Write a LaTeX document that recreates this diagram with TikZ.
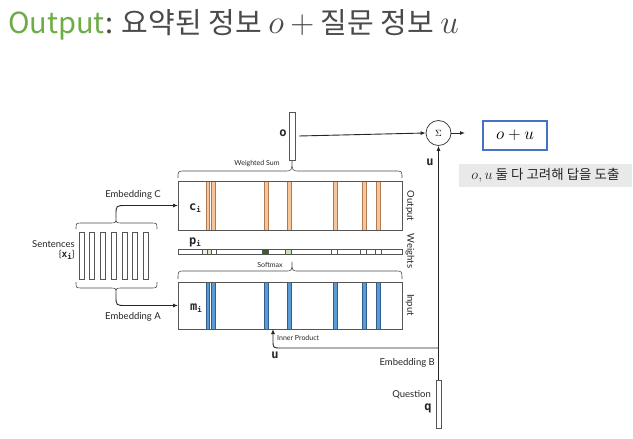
\documentclass[tikz,border=0pt]{standalone}
\usepackage{fontspec}
\setmainfont{Lato}
\newfontfamily\kr{Noto Sans CJK KR}
\newfontfamily\monof{DejaVu Sans Mono}
\usetikzlibrary{arrows.meta}
\definecolor{ttlgreen}{HTML}{6DAD45}
\definecolor{ttlgray}{HTML}{4A4A4A}
\definecolor{orfill}{HTML}{F8C49A}
\definecolor{oredge}{HTML}{B07A50}
\definecolor{blfill}{HTML}{5B9BD5}
\definecolor{bledge}{HTML}{2F5F8F}
\definecolor{boxblue}{HTML}{4472C4}
\definecolor{lineg}{HTML}{555555}
\definecolor{dgreen}{HTML}{3B5E22}
\definecolor{lgreen}{HTML}{C9E2B3}
\definecolor{notegray}{HTML}{E9E9E9}
\newcommand{\vlab}[1]{{\monof\bfseries #1}}
\newcommand{\vsub}[2]{{\monof\bfseries #1\raisebox{-0.35ex}{\fontsize{7.5}{8}\selectfont #2}}}
\newcommand{\ttlmath}[2]{{\fontsize{20}{20}\selectfont\scalebox{#1}{$#2$}}}
\begin{document}
\begin{tikzpicture}[x=1pt,y=-1pt,
  boxsh/.style={draw=lineg,line width=0.6pt,inner sep=0,outer sep=0,minimum width=224pt},
  vecsh/.style={draw=lineg,line width=0.6pt,inner sep=0,outer sep=0,fill=white},
  conn/.style={draw=black!85,line width=0.9pt,-{Latex[length=5pt,width=4pt]}},
  brace/.style={draw=black!70,line width=0.6pt},
  lab/.style={font=\fontsize{9.5}{10.5}\selectfont,text=black!85,inner sep=0},
  slab/.style={font=\fontsize{7}{8}\selectfont,text=black!85,inner sep=0},
  blab/.style={font=\fontsize{12}{13}\selectfont,text=black!85,inner sep=0}]
\useasboundingbox[fill=white] (0,0) rectangle (633,439);

% title
\node[anchor=base west,inner sep=0,font=\kr\fontsize{29}{30}\selectfont,text=ttlgreen] (t1) at (8,34) {Output};
\node[anchor=base west,inner sep=0,font=\kr\fontsize{29}{30}\selectfont,text=ttlgray] (t2) at (t1.base east) {: 요약된 정보 \ttlmath{1.6}{o} \ttlmath{1.6}{+} 질문 정보 \ttlmath{1.6}{u}};

% main boxes
\node[boxsh,minimum height=49pt] (outbox) at (290,205.5) {};
\node[boxsh,minimum height=5pt] (wbar) at (290,251.5) {};
\node[boxsh,minimum height=47pt] (inbox) at (290,305.5) {};

\foreach \a/\b in {206.5/209.5,211.5/215,264/267.7,287/290.7,333/336.7,362/365.7,376.5/380.2}{
  \filldraw[fill=orfill,draw=oredge,line width=0.4pt] (\a,181) rectangle (\b,230);
  \filldraw[fill=blfill,draw=bledge,line width=0.4pt] (\a,282) rectangle (\b,329);
}
\draw[lineg,line width=0.6pt] (178,181) rectangle (402,230);
\draw[lineg,line width=0.6pt] (178,282) rectangle (402,329);
\foreach \a/\b/\c in {202.7/206.8/lgreen!40,206.8/211/lgreen!70,211/215.8/white,262/268.7/dgreen,285/291.7/lgreen,331.3/337.3/white,360.7/366.7/white,375.3/381.3/white}{
  \filldraw[fill=\c,draw=lineg,line width=0.5pt] (\a,249) rectangle (\b,254);
}

% side labels
\node[lab,rotate=-90] (lout) at (410,206) {Output};
\node[lab,rotate=-90] (lw) at (410,251) {Weights};
\node[lab,rotate=-90] (lin) at (410,305) {Input};

\node[blab] (ci) at (195,208) {\vsub{c}{i}};
\node[blab] (pi) at (195,242) {\vsub{p}{i}};
\node[blab] (mi) at (196,308) {\vsub{m}{i}};

% o vector
\node[vecsh,minimum width=6pt,minimum height=48pt] (ovec) at (292,136) {};
\node[blab] (olab) at (283,133) {\vlab{o}};

% weighted sum brace
\draw[brace] (178,178) .. controls (178,171) .. (185,171) -- (284,171) .. controls (292,171) .. (ovec.south)
  .. controls (292,171) .. (300,171) -- (395,171) .. controls (402,171) .. (402,178);
\node[slab] (ws) at (257,164) {Weighted Sum};

% softmax brace
\draw[brace] (178,279) .. controls (178,271) .. (185,271) -- (285,271) .. controls (292,271) .. (292,262)
  .. controls (292,271) .. (299,271) -- (395,271) .. controls (402,271) .. (402,279);
\node[slab] (sm) at (270,265) {Softmax};

% sigma and result
\node[draw=black!80,line width=0.7pt,circle,minimum size=25pt,inner sep=0,font=\fontsize{9}{9}\selectfont] (sigma) at (438.5,133) {$\Sigma$};
\coordinate (oStart) at ([xshift=4pt]ovec.east);
\draw[conn] (oStart) -- (sigma.west);
\coordinate (sigEnd) at (465,133);
\draw[conn] (sigma.east) -- (sigEnd);
\node[draw=boxblue,line width=1.4pt,minimum width=64pt,minimum height=29pt,inner sep=0,font=\fontsize{17.28}{17}\selectfont] (res) at (515,135.5) {$o+u$};
\node[fill=notegray,minimum width=173pt,minimum height=23pt,inner sep=0,font=\kr\fontsize{13.5}{14}\selectfont,text=black!85] (note) at (545.5,175.5) {{\fontsize{14.4}{15}\selectfont$o,u$} 둘 다 고려해 답을 도출};

% question
\node[vecsh,minimum width=5pt,minimum height=48pt] (qvec) at (438.5,404) {};
\draw[conn] (qvec.north) -- (sigma.south);
\node[blab] (ulab) at (430,162) {\vlab{u}};
\node[lab,anchor=east] (embB) at (435,363) {Embedding B};
\node[lab,anchor=east] (qlab) at (431,395) {Question};
\node[blab] (qq) at (428,408) {\vlab{q}};

\coordinate (jn) at (438.5,348);
\coordinate (ip) at (273,329);
\draw[conn] (jn) -- (281,348) .. controls (273,348) .. (273,340) -- (ip);
\node[slab,anchor=west] (iptxt) at (277,338) {Inner Product};
\node[blab] (u2) at (275,355) {\vlab{u}};

% sentences
\foreach \k in {0,...,6}{
  \node[vecsh,minimum width=5pt,minimum height=47pt] (s\k) at (81.5+10.7*\k,255.5) {};
}
\node[lab,anchor=east,align=right] (sent) at (75,250) {Sentences\\ \{\vsub{x}{i}\}};

\draw[brace] (76,229) .. controls (76,223) .. (82,223) -- (110,223) .. controls (116,223) .. (116,217)
  .. controls (116,223) .. (122,223) -- (151,223) .. controls (157,223) .. (157,229);
\coordinate (brT) at (116,217);
\draw[conn] (brT) -- (116,215) .. controls (116,205.5) .. (126,205.5) -- (outbox.west);
\node[lab] (embC) at (133,195) {Embedding C};

\draw[brace] (76,282) .. controls (76,288) .. (82,288) -- (110,288) .. controls (116,288) .. (116,294)
  .. controls (116,288) .. (122,288) -- (151,288) .. controls (157,288) .. (157,282);
\coordinate (brB) at (116,294);
\draw[conn] (brB) -- (116,296) .. controls (116,305.5) .. (126,305.5) -- (inbox.west);
\node[lab] (embA) at (133,317) {Embedding A};
\end{tikzpicture}
\end{document}
